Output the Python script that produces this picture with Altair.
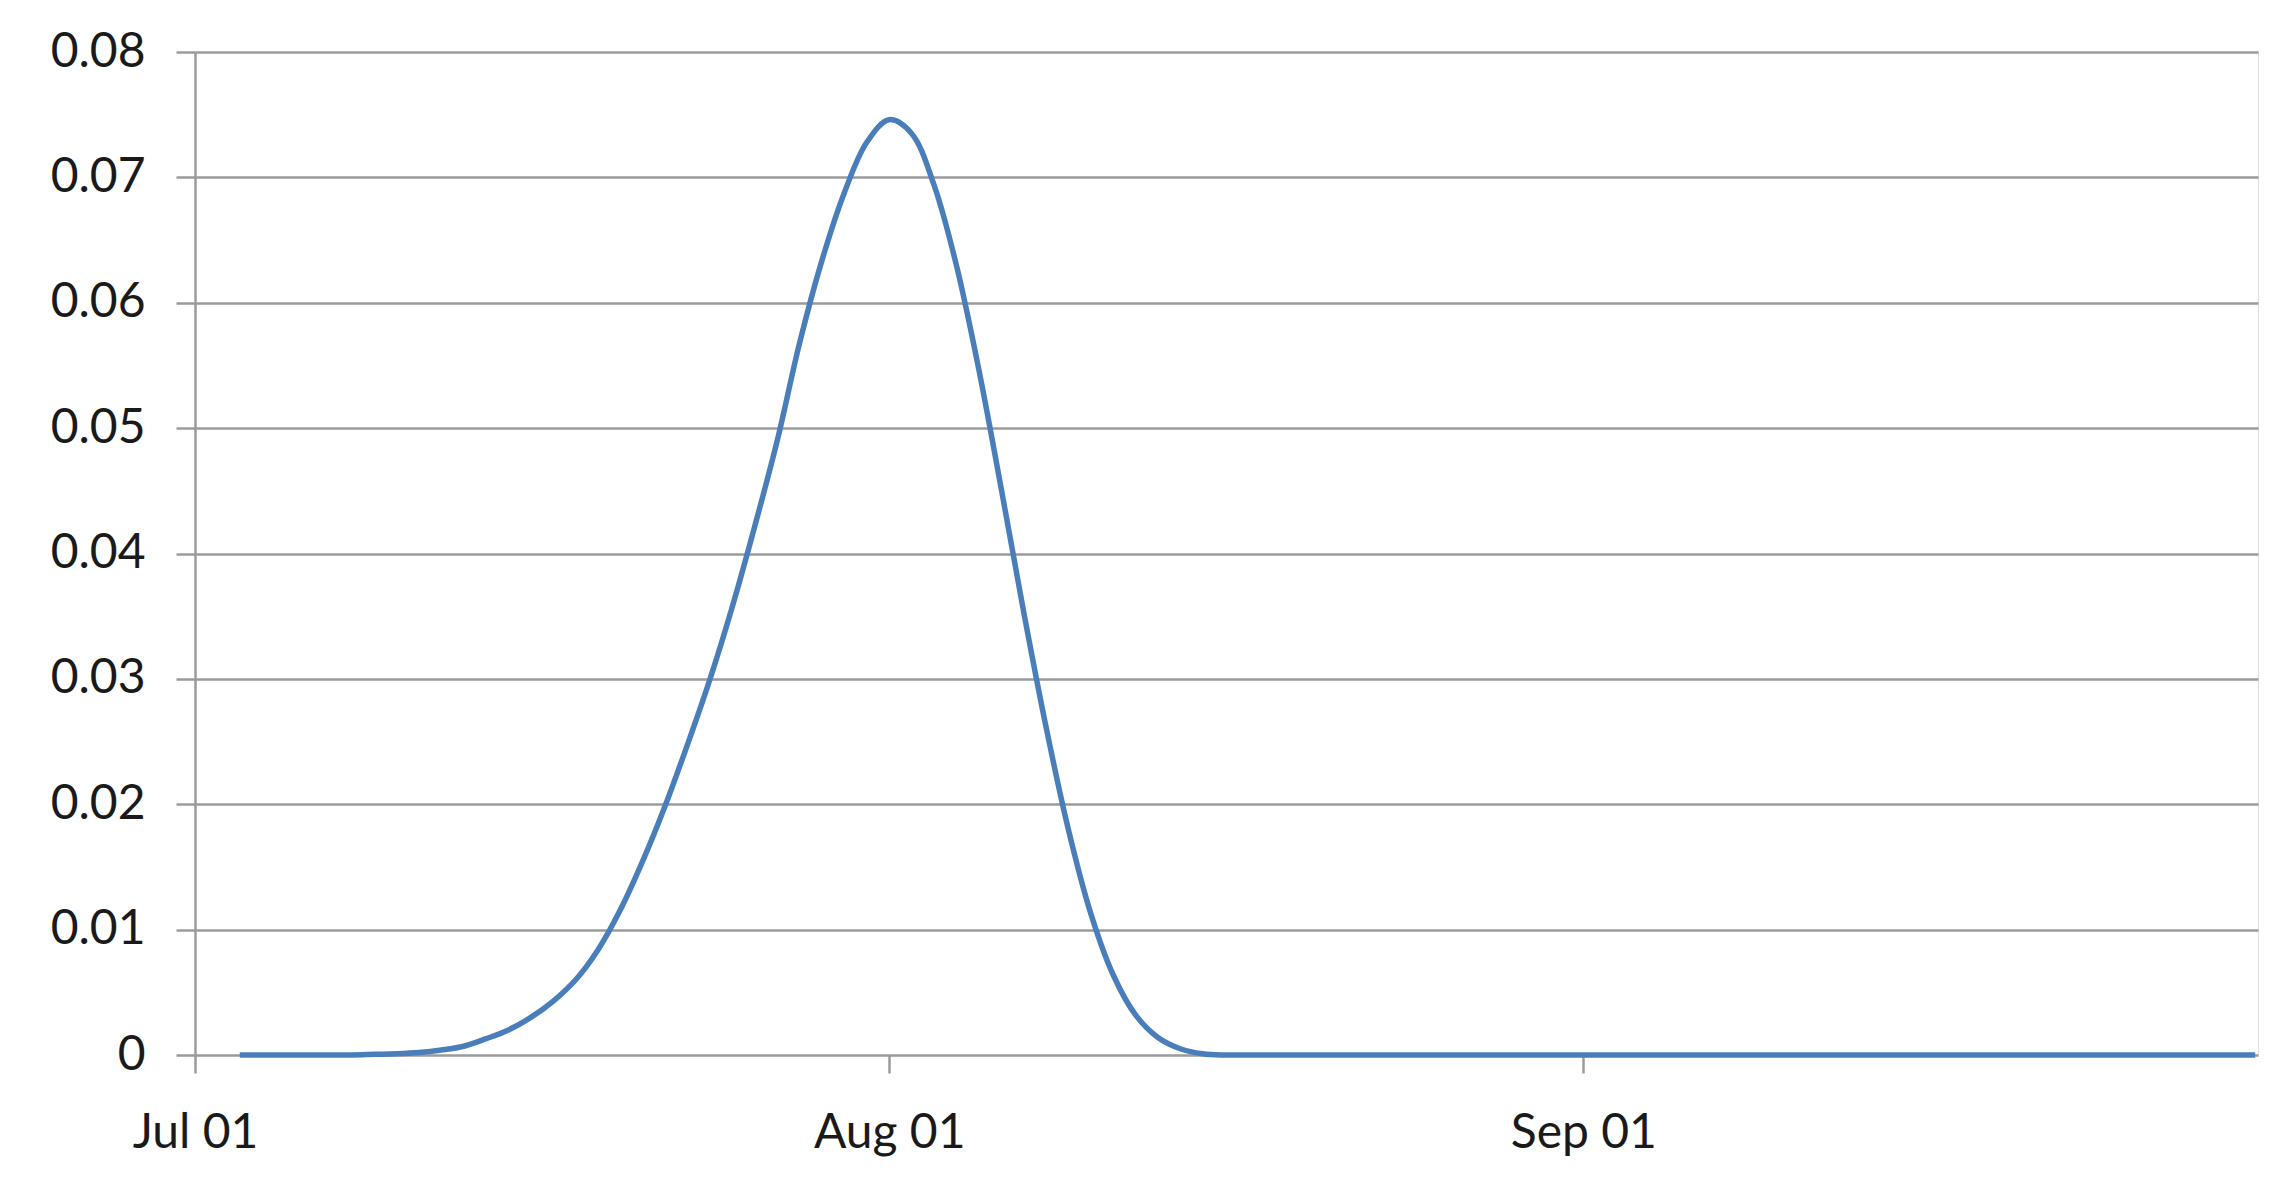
import altair as alt
import pandas as pd

# Daily dates from Jul 03 to Oct 01
start_date = "2013-07-03"
end_date = "2013-10-01"
dates = pd.date_range(start_date, end_date, freq="D").strftime("%Y-%m-%d").tolist()

# Values (one per day, Jul 03 .. Oct 01)
values = [
    0.0, 0.0, 0.0, 0.0, 0.0,                      # Jul 03 - Jul 07
    0.0, 0.00005, 0.0001, 0.0002, 0.0004,         # Jul 08 - Jul 12
    0.0007, 0.0013, 0.0020, 0.0030, 0.0043,       # Jul 13 - Jul 17
    0.0060, 0.0084, 0.0116, 0.0155, 0.0199,       # Jul 18 - Jul 22
    0.0248, 0.0300, 0.0358, 0.0422, 0.0490,       # Jul 23 - Jul 27
    0.0568, 0.0634, 0.0688, 0.0728, 0.0746,       # Jul 28 - Aug 01
    0.0735, 0.0694, 0.0630, 0.0547, 0.0452,       # Aug 02 - Aug 06
    0.0354, 0.0262, 0.0180, 0.0113, 0.0064,       # Aug 07 - Aug 11
    0.0032, 0.0014, 0.0005, 0.0001, 0.0,          # Aug 12 - Aug 16
    0.0, 0.0, 0.0, 0.0, 0.0,                      # Aug 17 - Aug 21
    0.0, 0.0, 0.0, 0.0, 0.0,                      # Aug 22 - Aug 26
    0.0, 0.0, 0.0, 0.0, 0.0,                      # Aug 27 - Aug 31
    0.0, 0.0, 0.0, 0.0, 0.0,                      # Sep 01 - Sep 05
    0.0, 0.0, 0.0, 0.0, 0.0,                      # Sep 06 - Sep 10
    0.0, 0.0, 0.0, 0.0, 0.0,                      # Sep 11 - Sep 15
    0.0, 0.0, 0.0, 0.0, 0.0,                      # Sep 16 - Sep 20
    0.0, 0.0, 0.0, 0.0, 0.0,                      # Sep 21 - Sep 25
    0.0, 0.0, 0.0, 0.0, 0.0,                      # Sep 26 - Sep 30
    0.0,                                          # Oct 01
]

y_ticks = [0, 0.01, 0.02, 0.03, 0.04, 0.05, 0.06, 0.07, 0.08]

df = pd.DataFrame({"date": dates, "value": values})

x_ticks = [
    alt.DateTime(year=2013, month=7, date=1, utc=True),
    alt.DateTime(year=2013, month=8, date=1, utc=True),
    alt.DateTime(year=2013, month=9, date=1, utc=True),
]

FONT = "Lato"
GRID = "#9b9b9b"

chart = (
    alt.Chart(df)
    .mark_line(color="#4a7ebb", strokeWidth=5.5, interpolate="catmull-rom")
    .encode(
        x=alt.X(
            "date:T",
            title=None,
            scale=alt.Scale(
                type="utc",
                domain=[
                    alt.DateTime(year=2013, month=7, date=1, utc=True),
                    alt.DateTime(year=2013, month=10, date=1, hours=3, utc=True),
                ],
                nice=False,
            ),
            axis=alt.Axis(
                values=x_ticks,
                labelExpr="utcFormat(datum.value, '%b %d')",
                grid=False,
                domain=False,
                tickColor=GRID,
                tickWidth=2.5,
                tickSize=18,
                labelPadding=36,
                labelFont=FONT,
                labelFontSize=48,
                labelColor="#1a1a1a",
                labelAlign="center",
                labelLimit=0,
            ),
        ),
        y=alt.Y(
            "value:Q",
            title=None,
            scale=alt.Scale(domain=[0, 0.08], nice=False),
            axis=alt.Axis(
                values=y_ticks,
                format=".2~f",
                grid=True,
                gridColor=GRID,
                gridWidth=2.5,
                domain=True,
                domainColor=GRID,
                domainWidth=2.5,
                tickColor=GRID,
                tickWidth=2.5,
                tickSize=19,
                labelPadding=31,
                labelFont=FONT,
                labelFontSize=48,
                labelColor="#1a1a1a",
            ),
        ),
    )
    .properties(
        width=2063,
        height=1003,
        autosize=alt.AutoSizeParams(type="none"),
        padding={"left": 187, "top": 44, "right": 20, "bottom": 120},
    )
    .configure_view(stroke=None)
    .configure(background="white")
)

chart.save("out.html", embed_options={"renderer": "svg", "actions": False})
